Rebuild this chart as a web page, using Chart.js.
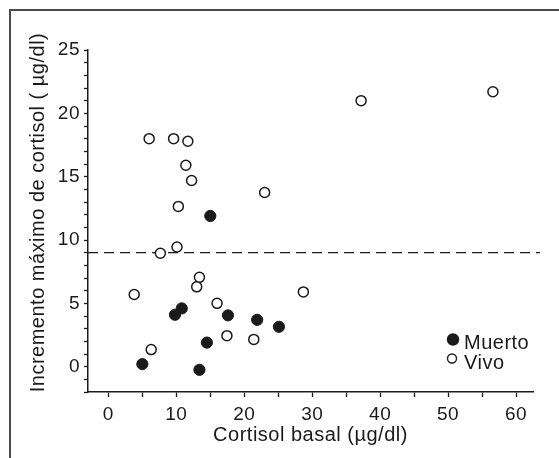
<!DOCTYPE html>
<html><head><meta charset="utf-8">
<script src="https://cdn.jsdelivr.net/npm/chart.js@4"></script>
<style>html,body{margin:0;padding:0;background:#fff;overflow:hidden}#wrap{width:559px;height:458px;position:relative}</style>
</head><body><div id="wrap"><canvas id="c" width="559" height="458"></canvas></div>
<script>
// Data
const muertoX = [15.0, 5.0, 9.8, 10.8, 17.6, 21.9, 14.5, 13.4, 25.1];
const muertoY = [11.9, 0.2, 4.1, 4.6, 4.05, 3.7, 1.9, -0.25, 3.15];
const vivoX = [6.0, 9.6, 11.7, 11.4, 12.25, 10.3, 23.0, 37.2, 56.6, 7.65, 10.1, 13.4, 13.0, 3.8, 16.0, 6.3, 17.45, 21.4, 28.7];
const vivoY = [18.0, 18.0, 17.8, 15.9, 14.7, 12.65, 13.75, 21.0, 21.7, 8.95, 9.45, 7.05, 6.3, 5.7, 5.0, 1.35, 2.45, 2.15, 5.9];
const umbral = 9;
const xTickLabels = [0, 10, 20, 30, 40, 50, 60];
const yTickLabels = [0, 5, 10, 15, 20, 25];
const seriesNames = ['Muerto', 'Vivo'];
const xTitle = 'Cortisol basal (µg/dl)';
const yTitle = 'Incremento máximo de cortisol ( µg/dl)';

const FONT = "'Liberation Sans', Arial, Helvetica, sans-serif";
const INK = '#1a1a1a';

const toPts = (xs, ys) => xs.map((x, i) => ({x: x, y: ys[i]}));

const decor = {
  id: 'decor',
  beforeDraw(chart) {
    const ctx = chart.ctx;
    ctx.save();
    ctx.strokeStyle = '#4a4a4a';
    ctx.lineWidth = 2;
    ctx.beginPath();
    ctx.moveTo(10, 458);
    ctx.lineTo(10, 10);
    ctx.lineTo(559, 10);
    ctx.stroke();
    ctx.restore();
    try { ctx.letterSpacing = '0.5px'; } catch (e) {}
  },
  afterDraw(chart) {
    const ctx = chart.ctx;
    ctx.save();
    try { ctx.letterSpacing = '0.5px'; } catch (e) {}
    // y title
    ctx.fillStyle = INK;
    ctx.font = "20px " + FONT;
    ctx.textAlign = 'center';
    ctx.textBaseline = 'middle';
    ctx.translate(38, 212.5);
    ctx.rotate(-Math.PI / 2);
    ctx.fillText(yTitle, 0, 0);
    ctx.restore();

    // legend
    ctx.save();
    try { ctx.letterSpacing = '0.5px'; } catch (e) {}
    ctx.fillStyle = INK;
    ctx.strokeStyle = INK;
    ctx.beginPath();
    ctx.arc(453, 339.5, 6.2, 0, Math.PI * 2);
    ctx.fill();
    ctx.beginPath();
    ctx.lineWidth = 1.4;
    ctx.arc(452, 358.5, 4.5, 0, Math.PI * 2);
    ctx.fillStyle = '#fff';
    ctx.fill();
    ctx.stroke();
    ctx.fillStyle = INK;
    ctx.font = "20px " + FONT;
    ctx.textAlign = 'left';
    ctx.textBaseline = 'alphabetic';
    ctx.fillText(seriesNames[0], 464, 348.5);
    ctx.fillText(seriesNames[1], 464, 368.5);
    ctx.restore();
  }
};

new Chart(document.getElementById('c'), {
  type: 'scatter',
  data: {
    datasets: [
      {
        label: seriesNames[0],
        data: toPts(muertoX, muertoY),
        pointRadius: 5.6,
        pointBackgroundColor: INK,
        pointBorderColor: INK,
        pointBorderWidth: 1
      },
      {
        label: seriesNames[1],
        data: toPts(vivoX, vivoY),
        pointRadius: 5,
        pointBackgroundColor: '#fff',
        pointBorderColor: INK,
        pointBorderWidth: 1.5
      },
      {
        type: 'line',
        label: 'umbral',
        data: [{x: -3, y: umbral}, {x: 63.5, y: umbral}],
        borderColor: INK,
        borderWidth: 1.3,
        borderDash: [10, 6],
        pointRadius: 0,
        fill: false,
        clip: false
      }
    ]
  },
  options: {
    responsive: false,
    animation: false,
    devicePixelRatio: 1,
    layout: {padding: {top: 50, right: 26, left: 0, bottom: 0}},
    plugins: {legend: {display: false}, tooltip: {enabled: false}},
    scales: {
      x: {
        type: 'linear',
        min: -3,
        max: 62.5,
        afterFit(s) { s.height = 66; },
        border: {display: true, color: INK, width: 1.5},
        grid: {display: true, drawOnChartArea: false, drawTicks: true, tickLength: 5, tickColor: INK, tickWidth: 1.3},
        ticks: {
          stepSize: 5,
          includeBounds: false,
          autoSkip: false,
          maxRotation: 0,
          padding: 6,
          color: INK,
          font: {family: FONT, size: 19},
          callback: v => xTickLabels.includes(v) ? String(v) : ''
        },
        title: {display: true, text: xTitle, color: INK, font: {family: FONT, size: 20}, padding: {top: 0, bottom: 11}}
      },
      y: {
        type: 'linear',
        min: -2,
        max: 25,
        afterFit(s) { s.width = 88; },
        border: {display: true, color: INK, width: 1.5},
        grid: {display: true, drawOnChartArea: false, drawTicks: true, tickLength: 4, tickColor: INK, tickWidth: 1.3},
        ticks: {
          stepSize: 1,
          autoSkip: false,
          padding: 4,
          color: INK,
          font: {family: FONT, size: 19},
          callback: v => yTickLabels.includes(v) ? String(v) : ''
        },
        title: {display: false}
      }
    }
  },
  plugins: [decor]
});
</script>
</body></html>
